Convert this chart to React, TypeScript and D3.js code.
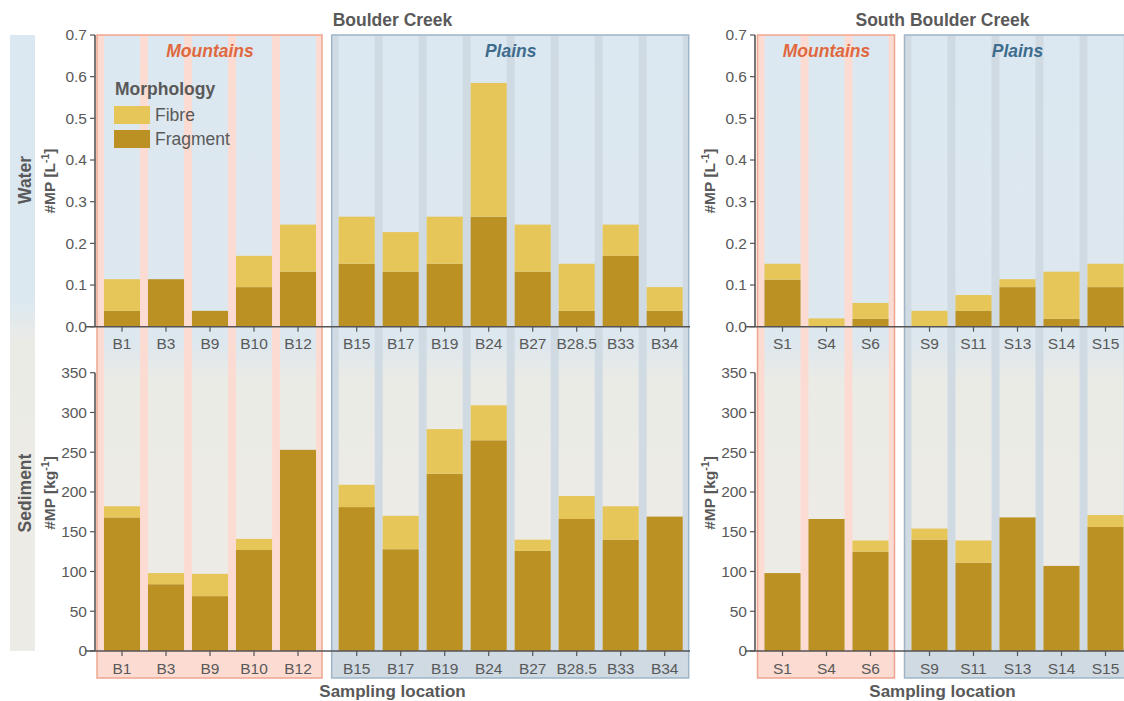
import React from "react";
import * as d3 from "d3";

// ---------- Data ----------
const bcMountains = ["B1", "B3", "B9", "B10", "B12"];
const bcPlains = ["B15", "B17", "B19", "B24", "B27", "B28.5", "B33", "B34"];
const sbcMountains = ["S1", "S4", "S6"];
const sbcPlains = ["S9", "S11", "S13", "S14", "S15"];

// Water (#MP per L)
const waterFragment: Record<string, number> = {
  B1: 0.038, B3: 0.114, B9: 0.038, B10: 0.095, B12: 0.132,
  B15: 0.151, B17: 0.132, B19: 0.151, B24: 0.264, B27: 0.132, "B28.5": 0.038, B33: 0.17, B34: 0.038,
  S1: 0.113, S4: 0, S6: 0.019, S9: 0, S11: 0.038, S13: 0.095, S14: 0.019, S15: 0.095,
};
const waterFibre: Record<string, number> = {
  B1: 0.076, B3: 0, B9: 0, B10: 0.075, B12: 0.113,
  B15: 0.113, B17: 0.095, B19: 0.113, B24: 0.321, B27: 0.113, "B28.5": 0.113, B33: 0.075, B34: 0.057,
  S1: 0.038, S4: 0.02, S6: 0.038, S9: 0.038, S11: 0.038, S13: 0.019, S14: 0.113, S15: 0.056,
};
// Sediment (#MP per kg)
const sedFragment: Record<string, number> = {
  B1: 168, B3: 84, B9: 69, B10: 127, B12: 253,
  B15: 181, B17: 128, B19: 223, B24: 265, B27: 126, "B28.5": 166, B33: 140, B34: 169,
  S1: 98, S4: 166, S6: 125, S9: 140, S11: 111, S13: 168, S14: 107, S15: 156,
};
const sedFibre: Record<string, number> = {
  B1: 14, B3: 14, B9: 28, B10: 14, B12: 0,
  B15: 28, B17: 42, B19: 56, B24: 44, B27: 14, "B28.5": 29, B33: 42, B34: 0,
  S1: 0, S4: 0, S6: 14, S9: 14, S11: 28, S13: 0, S14: 0, S15: 15,
};

const waterTicks = [0, 0.1, 0.2, 0.3, 0.4, 0.5, 0.6, 0.7];
const sedTicks = [0, 50, 100, 150, 200, 250, 300, 350];

// ---------- Style ----------
const FONT = "'Liberation Sans', Arial, sans-serif";
const TXT = "#595959";
const AXIS = "#555555";
const FIBRE = "#e6c658";
const FRAGMENT = "#bb9124";
const MT_FILL = "#fcdcd2";
const MT_STROKE = "#eea58f";
const PL_FILL = "#cfdae3";
const PL_STROKE = "#9fb5c7";
const MT_TEXT = "#e0683f";
const PL_TEXT = "#3e6c8d";
const TICK_FS = 15.5;
const BIG_FS = 17.5;

const yWater = d3.scaleLinear().domain([0, 0.7]).range([326.7, 35]);
const ySed = d3.scaleLinear().domain([0, 350]).range([651, 372.7]);

type Group = { name: string; kind: "Mountains" | "Plains"; cats: string[]; range: [number, number] };
type Panel = { title: string; axisX: number; axisEnd: number; groups: Group[]; legend: boolean };

const panels: Panel[] = [
  {
    title: "Boulder Creek",
    axisX: 95,
    axisEnd: 690,
    legend: true,
    groups: [
      { name: "bcM", kind: "Mountains", cats: bcMountains, range: [100, 320] },
      { name: "bcP", kind: "Plains", cats: bcPlains, range: [334.7, 686.7] },
    ],
  },
  {
    title: "South Boulder Creek",
    axisX: 755,
    axisEnd: 1130,
    legend: false,
    groups: [
      { name: "sM", kind: "Mountains", cats: sbcMountains, range: [760.5, 892.5] },
      { name: "sP", kind: "Plains", cats: sbcPlains, range: [907.5, 1127.5] },
    ],
  },
];

const BOX_TOP = 35;
const BOX_BOTTOM = 678;

function YAxis({ x, scale, ticks, fmt }: { x: number; scale: d3.ScaleLinear<number, number>; ticks: number[]; fmt: (v: number) => string }) {
  const [r0, r1] = scale.range();
  return (
    <g>
      <line x1={x} x2={x} y1={r0} y2={r1} stroke={AXIS} strokeWidth={1.6} />
      {ticks.map((t) => (
        <g key={t}>
          <line x1={x - 5} x2={x} y1={scale(t)} y2={scale(t)} stroke={AXIS} strokeWidth={1.2} />
          <text x={x - 8} y={scale(t)} dy="0.35em" textAnchor="end" fontSize={TICK_FS} fill={TXT} fontFamily={FONT}>
            {fmt(t)}
          </text>
        </g>
      ))}
    </g>
  );
}

function PanelView({ p }: { p: Panel }) {
  const scales = p.groups.map((g) =>
    d3.scaleBand<string>().domain(g.cats).range(g.range).paddingInner(0.18).paddingOuter(0.09)
  );
  const y0w = yWater(0);
  const y0s = ySed(0);
  const centre = (p.axisX + p.axisEnd) / 2;
  return (
    <g>
      {/* group boxes */}
      {p.groups.map((g) => (
        <rect
          key={g.name}
          x={g.range[0] - 3}
          y={BOX_TOP}
          width={g.range[1] - g.range[0] + 5}
          height={BOX_BOTTOM - BOX_TOP}
          fill={g.kind === "Mountains" ? MT_FILL : PL_FILL}
          stroke={g.kind === "Mountains" ? MT_STROKE : PL_STROKE}
          strokeWidth={1.5}
        />
      ))}
      {/* column backgrounds */}
      {p.groups.map((g, gi) =>
        g.cats.map((c) => (
          <rect
            key={g.name + c}
            x={scales[gi](c)!}
            y={BOX_TOP + 1}
            width={scales[gi].bandwidth()}
            height={y0s - BOX_TOP - 1}
            fill="url(#colGrad)"
          />
        ))
      )}
      {/* bars */}
      {p.groups.map((g, gi) =>
        g.cats.map((c) => {
          const x = scales[gi](c)!;
          const w = scales[gi].bandwidth();
          const wf = waterFragment[c];
          const wb = waterFibre[c];
          const sf = sedFragment[c];
          const sb = sedFibre[c];
          return (
            <g key={"bar" + c}>
              {wf > 0 && <rect x={x} y={yWater(wf)} width={w} height={y0w - yWater(wf)} fill={FRAGMENT} />}
              {wb > 0 && <rect x={x} y={yWater(wf + wb)} width={w} height={yWater(wf) - yWater(wf + wb)} fill={FIBRE} />}
              {sf > 0 && <rect x={x} y={ySed(sf)} width={w} height={y0s - ySed(sf)} fill={FRAGMENT} />}
              {sb > 0 && <rect x={x} y={ySed(sf + sb)} width={w} height={ySed(sf) - ySed(sf + sb)} fill={FIBRE} />}
            </g>
          );
        })
      )}
      {/* group labels */}
      {p.groups.map((g) => (
        <text
          key={"lab" + g.name}
          x={(g.range[0] + g.range[1]) / 2}
          y={57}
          textAnchor="middle"
          fontSize={BIG_FS}
          fontWeight="bold"
          fontStyle="italic"
          fill={g.kind === "Mountains" ? MT_TEXT : PL_TEXT}
          fontFamily={FONT}
        >
          {g.kind}
        </text>
      ))}
      {/* x axes */}
      <line x1={p.axisX - 10} x2={p.axisEnd} y1={y0w} y2={y0w} stroke={AXIS} strokeWidth={1.6} />
      <line x1={p.axisX - 10} x2={p.axisEnd} y1={y0s} y2={y0s} stroke={AXIS} strokeWidth={1.6} />
      {p.groups.map((g, gi) =>
        g.cats.map((c) => {
          const cx = scales[gi](c)! + scales[gi].bandwidth() / 2;
          return (
            <g key={"xt" + c}>
              <line x1={cx} x2={cx} y1={y0w} y2={y0w + 5} stroke={AXIS} strokeWidth={1.2} />
              <line x1={cx} x2={cx} y1={y0s} y2={y0s + 5} stroke={AXIS} strokeWidth={1.2} />
              <text x={cx} y={349} textAnchor="middle" fontSize={TICK_FS} fill={TXT} fontFamily={FONT}>
                {c}
              </text>
              <text x={cx} y={674} textAnchor="middle" fontSize={TICK_FS} fill={TXT} fontFamily={FONT}>
                {c}
              </text>
            </g>
          );
        })
      )}
      <YAxis x={p.axisX} scale={yWater} ticks={waterTicks} fmt={d3.format(".1f")} />
      <YAxis x={p.axisX} scale={ySed} ticks={sedTicks} fmt={d3.format("d")} />
      {/* y titles */}
      <text transform={`translate(${p.axisX - 40},${181}) rotate(-90)`} textAnchor="middle" fontSize={15.5} fontWeight="bold" fill={TXT} fontFamily={FONT}>
        #MP [L<tspan dy={-6} fontSize={10.5}>-1</tspan><tspan dy={6}>]</tspan>
      </text>
      <text transform={`translate(${p.axisX - 40},${493}) rotate(-90)`} textAnchor="middle" fontSize={15.5} fontWeight="bold" fill={TXT} fontFamily={FONT}>
        #MP [kg<tspan dy={-6} fontSize={10.5}>-1</tspan><tspan dy={6}>]</tspan>
      </text>
      {/* titles */}
      <text x={centre} y={26} textAnchor="middle" fontSize={BIG_FS} fontWeight="bold" fill={TXT} fontFamily={FONT}>
        {p.title}
      </text>
      <text x={centre} y={697} textAnchor="middle" fontSize={17} fontWeight="bold" fill={TXT} fontFamily={FONT}>
        Sampling location
      </text>
      {p.legend && (
        <g fontFamily={FONT}>
          <text x={115} y={95} fontSize={BIG_FS} fontWeight="bold" fill={TXT}>
            Morphology
          </text>
          <rect x={114} y={106} width={36} height={18} fill={FIBRE} />
          <text x={155} y={121} fontSize={BIG_FS} fill={TXT}>
            Fibre
          </text>
          <rect x={114} y={130} width={36} height={18} fill={FRAGMENT} />
          <text x={155} y={145} fontSize={BIG_FS} fill={TXT}>
            Fragment
          </text>
        </g>
      )}
    </g>
  );
}

export default function App() {
  return (
    <div style={{ position: "fixed", left: 0, top: 0, width: 1124, height: 701, background: "#fff" }}>
      <svg width={1124} height={701} viewBox="0 0 1124 701" style={{ display: "block" }}>
        <defs>
          <linearGradient id="colGrad" gradientUnits="userSpaceOnUse" x1={0} x2={0} y1={35} y2={651}>
            <stop offset={0} stopColor="#dce8f1" />
            <stop offset={0.5} stopColor="#dde7ee" />
            <stop offset={0.56} stopColor="#ebebe6" />
            <stop offset={1} stopColor="#edebe6" />
          </linearGradient>
          <linearGradient id="stripGrad" gradientUnits="userSpaceOnUse" x1={0} x2={0} y1={35} y2={651}>
            <stop offset={0} stopColor="#dce8f1" />
            <stop offset={0.43} stopColor="#dce8f0" />
            <stop offset={0.5} stopColor="#ebebe6" />
            <stop offset={1} stopColor="#edebe6" />
          </linearGradient>
        </defs>
        <rect x={0} y={0} width={1124} height={701} fill="#ffffff" />
        <rect x={10} y={35} width={25} height={616} fill="url(#stripGrad)" />
        <text transform="translate(31,180) rotate(-90)" textAnchor="middle" fontSize={BIG_FS} fontWeight="bold" fill={TXT} fontFamily={FONT}>
          Water
        </text>
        <text transform="translate(31,493) rotate(-90)" textAnchor="middle" fontSize={BIG_FS} fontWeight="bold" fill={TXT} fontFamily={FONT}>
          Sediment
        </text>
        {panels.map((p) => (
          <PanelView key={p.title} p={p} />
        ))}
      </svg>
    </div>
  );
}
